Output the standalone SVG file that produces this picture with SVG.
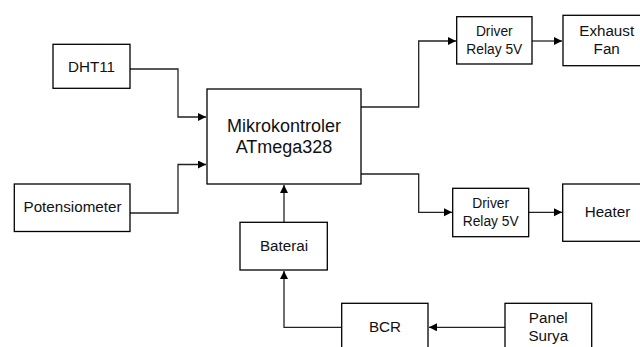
<svg xmlns="http://www.w3.org/2000/svg" width="640" height="347" viewBox="0 0 640 347">
<style>
rect{fill:#fff;stroke:#000;stroke-width:1.3}
text{font-family:"Liberation Sans",Arial,sans-serif;font-size:15.2px;fill:#111;text-anchor:middle}
.s{font-size:13.8px}
.b{font-size:18px}
.c path{fill:none;stroke:#222;stroke-width:1.3;marker-end:url(#a)}
</style>
<defs>
<marker id="a" markerUnits="userSpaceOnUse" markerWidth="10" markerHeight="10" refX="8" refY="4" orient="auto">
<path d="M0,0 L8,4 L0,8 Z" fill="#000"/>
</marker>
</defs>
<g class="c">
<path d="M130,69 H178 V117 H206"/>
<path d="M130,213 H178 V164.5 H206"/>
<path d="M361,107 H418.7 V41 H456"/>
<path d="M532,41 H562"/>
<path d="M361,174 H418.7 V212.3 H452"/>
<path d="M529,212.3 H562"/>
<path d="M284,222 V185"/>
<path d="M341,327.3 H284 V271"/>
<path d="M505,327.3 H429"/>
</g>
<g id="dht11"><rect x="53" y="44.3" width="77" height="44"/><text x="91.5" y="72">DHT11</text></g>
<g id="pot"><rect x="14.3" y="184" width="115.7" height="47.5"/><text x="72.5" y="211.7">Potensiometer</text></g>
<g id="mcu"><rect x="207" y="89" width="154" height="95"/><text class="b" x="284" y="131.5">Mikrokontroler</text><text class="b" x="284" y="153">ATmega328</text></g>
<g id="relay1"><rect x="456.7" y="16.7" width="75.3" height="47.3"/><text class="s" x="494.3" y="36">Driver</text><text class="s" x="494.3" y="54">Relay 5V</text></g>
<g id="fan"><rect x="563" y="15.3" width="87" height="50.4"/><text x="606.7" y="36">Exhaust</text><text x="606.7" y="53.5">Fan</text></g>
<g id="relay2"><rect x="452.7" y="188.3" width="76" height="48.4"/><text class="s" x="490.7" y="207.7">Driver</text><text class="s" x="490.7" y="225.5">Relay 5V</text></g>
<g id="heater"><rect x="562.7" y="184" width="87" height="57.3"/><text x="607.5" y="216.7">Heater</text></g>
<g id="baterai"><rect x="240" y="222.3" width="87.3" height="47.7"/><text x="284" y="251">Baterai</text></g>
<g id="bcr"><rect x="341.7" y="303.3" width="86.3" height="60"/><text x="385" y="331.7">BCR</text></g>
<g id="panel"><rect x="505" y="303.3" width="86.7" height="60"/><text x="548.3" y="323.3">Panel</text><text x="548.3" y="341">Surya</text></g>
</svg>
